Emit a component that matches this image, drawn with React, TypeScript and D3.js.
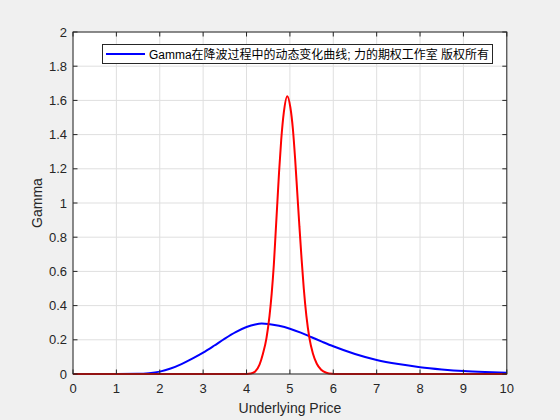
import React from "react";
import * as d3 from "d3";

const xTicks = [0, 1, 2, 3, 4, 5, 6, 7, 8, 9, 10];
const yTicks = [0, 0.2, 0.4, 0.6, 0.8, 1, 1.2, 1.4, 1.6, 1.8, 2];
const yTickLabels = ["0", "0.2", "0.4", "0.6", "0.8", "1", "1.2", "1.4", "1.6", "1.8", "2"];

const blueX = [0, 1, 1.5, 1.75, 2, 2.25, 2.5, 2.75, 3, 3.25, 3.5, 3.75, 4, 4.2, 4.35, 4.5, 4.75, 5, 5.25, 5.5, 5.75, 6, 6.5, 7, 7.5, 8, 8.5, 9, 9.5, 10];
const blueY = [0, 0, 0.001, 0.005, 0.014, 0.032, 0.058, 0.09, 0.125, 0.165, 0.207, 0.245, 0.275, 0.29, 0.295, 0.293, 0.282, 0.265, 0.242, 0.215, 0.188, 0.162, 0.117, 0.082, 0.058, 0.04, 0.027, 0.017, 0.011, 0.007];

const redX = [0, 3.8, 4.0, 4.1, 4.2, 4.3, 4.38, 4.46, 4.53, 4.58, 4.63, 4.67, 4.71, 4.75, 4.8, 4.86, 4.94, 5.01, 5.07, 5.12, 5.17, 5.22, 5.27, 5.32, 5.38, 5.45, 5.53, 5.62, 5.72, 5.84, 5.97, 6.1, 10];
const redY = [0, 0, 0.0005, 0.003, 0.015, 0.055, 0.12, 0.21, 0.34, 0.47, 0.64, 0.82, 1.0, 1.18, 1.37, 1.53, 1.625, 1.56, 1.43, 1.26, 1.06, 0.86, 0.67, 0.5, 0.34, 0.21, 0.12, 0.06, 0.025, 0.007, 0.001, 0, 0];

const legendLabel = "Gamma在降波过程中的动态变化曲线; 力的期权工作室 版权所有";
const xLabel = "Underlying Price";
const yLabel = "Gamma";

const W = 560, H = 420;
const L = 73, R = 506.8, T = 32, B = 374;

export default function App() {
  const x = d3.scaleLinear().domain([0, 10]).range([L, R]);
  const y = d3.scaleLinear().domain([0, 2]).range([B, T]);
  const line = d3.line<[number, number]>().x(d => x(d[0])).y(d => y(d[1])).curve(d3.curveMonotoneX);
  const blue = blueX.map((v, i) => [v, blueY[i]] as [number, number]);
  const red = redX.map((v, i) => [v, redY[i]] as [number, number]);
  const axisColor = "#262626";
  const font = "'Liberation Sans', Arial, 'Noto Sans CJK SC', sans-serif";
  const tickLen = 4.5;
  return (
    <svg width={W} height={H} style={{ position: "absolute", left: 0, top: 0 }} fontFamily={font}>
      <rect x={0} y={0} width={W} height={H} fill="#f0f0f0" />
      <rect x={L} y={T} width={R - L} height={B - T} fill="#ffffff" />
      {xTicks.map(t => (
        <line key={"gx" + t} x1={x(t)} x2={x(t)} y1={T} y2={B} stroke="#dfdfdf" strokeWidth={1} />
      ))}
      {yTicks.map(t => (
        <line key={"gy" + t} x1={L} x2={R} y1={y(t)} y2={y(t)} stroke="#dfdfdf" strokeWidth={1} />
      ))}
      <path d={line(blue) || ""} fill="none" stroke="#0000ff" strokeWidth={2} />
      <path d={line(red) || ""} fill="none" stroke="#ff0000" strokeWidth={2} />
      <rect x={L} y={T} width={R - L} height={B - T} fill="none" stroke={axisColor} strokeWidth={1} />
      {xTicks.map(t => (
        <g key={"tx" + t}>
          <line x1={x(t)} x2={x(t)} y1={B} y2={B - tickLen} stroke={axisColor} />
          <line x1={x(t)} x2={x(t)} y1={T} y2={T + tickLen} stroke={axisColor} />
          <text x={x(t)} y={388} fontSize={13} fill={axisColor} textAnchor="middle" dominantBaseline="central">{t}</text>
        </g>
      ))}
      {yTicks.map((t, i) => (
        <g key={"ty" + t}>
          <line x1={L} x2={L + tickLen} y1={y(t)} y2={y(t)} stroke={axisColor} />
          <line x1={R} x2={R - tickLen} y1={y(t)} y2={y(t)} stroke={axisColor} />
          <text x={67} y={y(t)} fontSize={13} fill={axisColor} textAnchor="end" dominantBaseline="central">{yTickLabels[i]}</text>
        </g>
      ))}
      <text x={(L + R) / 2} y={408} fontSize={14} fill={axisColor} textAnchor="middle" dominantBaseline="central">{xLabel}</text>
      <text transform={`translate(37,${(T + B) / 2}) rotate(-90)`} fontSize={14} fill={axisColor} textAnchor="middle" dominantBaseline="central">{yLabel}</text>
      <g>
        <rect x={102.5} y={44.5} width={390} height={19} fill="#ffffff" stroke={axisColor} strokeWidth={1} />
        <line x1={106} x2={145} y1={54} y2={54} stroke="#0000ff" strokeWidth={2} />
        <text x={149} y={54.5} fontSize={12} fill="#000000" dominantBaseline="central" textLength={340} lengthAdjust="spacingAndGlyphs">{legendLabel}</text>
      </g>
    </svg>
  );
}
